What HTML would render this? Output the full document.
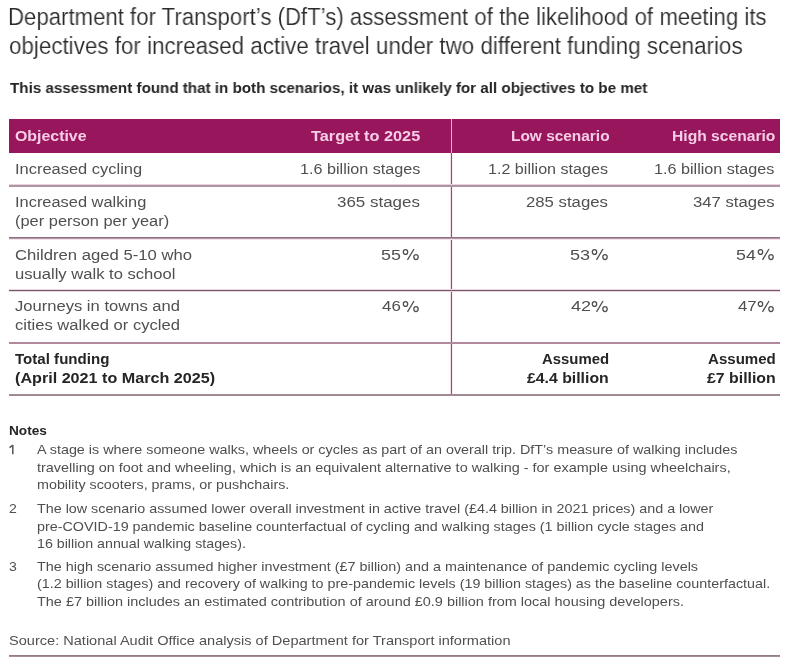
<!DOCTYPE html>
<html><head><meta charset="utf-8"><title>DfT assessment</title>
<style>
html,body{margin:0;padding:0;background:#ffffff;width:800px;height:672px;overflow:hidden;position:relative}
.t{position:absolute;white-space:nowrap;font-family:"Liberation Sans",sans-serif;transform-origin:0 0;will-change:transform}
.hd{position:absolute;left:9px;top:119px;width:771px;height:34px;background:#98165b}
.hl{position:absolute;left:9px;width:771px;height:2px;background:#b495a6}
.vl{position:absolute;left:451px;width:1px}
</style></head><body>
<div class="hd"></div>
<div class="vl" style="top:119px;height:34px;background:#f0a8d0"></div>
<div class="vl" style="top:153px;height:243px;background:#7f586f"></div>
<div class="vl" style="left:450px;top:153px;height:243px;background:#f5dde9"></div>
<div class="vl" style="left:452px;top:153px;height:243px;background:#fcf0f6"></div>
<div class="hl" style="top:184px;height:1px;background:#e6d3de"></div>
<div class="hl" style="top:185px;background:#b093a4"></div>
<div class="hl" style="top:237px;height:1px;background:#8e7084"></div>
<div class="hl" style="top:238px;height:1px;background:#b597aa"></div>
<div class="hl" style="top:239px;height:1px;background:#f3e3ec"></div>
<div class="hl" style="top:289px;height:1px;background:#eed8e4"></div>
<div class="hl" style="top:290px;height:1px;background:#74596a"></div>
<div class="hl" style="top:291px;height:1px;background:#e9d5e0"></div>
<div class="hl" style="top:342px;background:#b08a9c"></div>
<div class="hl" style="top:394px;background:#a08a96"></div>
<div class="hl" style="top:655px;height:1px;background:#957a8a"></div>
<div class="hl" style="top:656px;height:1px;background:#a78d9c"></div>
<svg style="position:absolute;left:8px;top:443px" width="8" height="13" viewBox="0 0 8 13"><path d="M4.8 1.9V11.3M4.9 2.1L1.5 4.6" stroke="#555555" stroke-width="1.5" fill="none"/></svg>
<svg style="position:absolute;left:399.1px;top:245.9px" width="22" height="16" viewBox="0 0 22 16"><g fill="none" stroke="#505050" stroke-width="1.3"><ellipse cx="6.50" cy="6.00" rx="2.2" ry="2.45"/><ellipse cx="17.00" cy="11.1" rx="2.2" ry="2.45"/><path d="M15.00 3.00L8.50 13.80"/></g></svg>
<svg style="position:absolute;left:588.3px;top:245.9px" width="22" height="16" viewBox="0 0 22 16"><g fill="none" stroke="#505050" stroke-width="1.3"><ellipse cx="6.50" cy="6.00" rx="2.2" ry="2.45"/><ellipse cx="17.00" cy="11.1" rx="2.2" ry="2.45"/><path d="M15.00 3.00L8.50 13.80"/></g></svg>
<svg style="position:absolute;left:754.0px;top:245.9px" width="22" height="16" viewBox="0 0 22 16"><g fill="none" stroke="#505050" stroke-width="1.3"><ellipse cx="6.50" cy="6.00" rx="2.2" ry="2.45"/><ellipse cx="17.00" cy="11.1" rx="2.2" ry="2.45"/><path d="M15.00 3.00L8.50 13.80"/></g></svg>
<svg style="position:absolute;left:399.1px;top:297.6px" width="22" height="16" viewBox="0 0 22 16"><g fill="none" stroke="#505050" stroke-width="1.3"><ellipse cx="6.50" cy="6.00" rx="2.2" ry="2.45"/><ellipse cx="17.00" cy="11.1" rx="2.2" ry="2.45"/><path d="M15.00 3.00L8.50 13.80"/></g></svg>
<svg style="position:absolute;left:588.3px;top:297.6px" width="22" height="16" viewBox="0 0 22 16"><g fill="none" stroke="#505050" stroke-width="1.3"><ellipse cx="6.50" cy="6.00" rx="2.2" ry="2.45"/><ellipse cx="17.00" cy="11.1" rx="2.2" ry="2.45"/><path d="M15.00 3.00L8.50 13.80"/></g></svg>
<svg style="position:absolute;left:753.6px;top:297.6px" width="22" height="16" viewBox="0 0 22 16"><g fill="none" stroke="#505050" stroke-width="1.3"><ellipse cx="6.50" cy="6.00" rx="2.2" ry="2.45"/><ellipse cx="17.00" cy="11.1" rx="2.2" ry="2.45"/><path d="M15.00 3.00L8.50 13.80"/></g></svg>
<div class="t" style="left:8.17px;top:6px;font-size:23px;line-height:23px;font-weight:400;color:#2a2a2a;-webkit-text-stroke:0.15px #fff;transform:scaleX(0.9644)">Department for Transport&rsquo;s (DfT&rsquo;s) assessment of the likelihood of meeting its</div>
<div class="t" style="left:9.13px;top:35px;font-size:23px;line-height:23px;font-weight:400;color:#2a2a2a;-webkit-text-stroke:0.15px #fff;transform:scaleX(0.9731)">objectives for increased active travel under two different funding scenarios</div>
<div class="t" style="left:10.10px;top:80px;font-size:15.3px;line-height:15.3px;font-weight:700;color:#252525;transform:scaleX(0.9916)">This assessment found that in both scenarios, it was unlikely for all objectives to be met</div>
<div class="t" style="left:14.76px;top:128px;font-size:15.3px;line-height:15.3px;font-weight:700;color:#f6cde6;transform:scaleX(1.0388)">Objective</div>
<div class="t" style="left:311.00px;top:128px;font-size:15.3px;line-height:15.3px;font-weight:700;color:#f6cde6;transform:scaleX(1.0647)">Target to 2025</div>
<div class="t" style="left:510.59px;top:128px;font-size:15.3px;line-height:15.3px;font-weight:700;color:#f6cde6;transform:scaleX(1.0083)">Low scenario</div>
<div class="t" style="left:671.58px;top:128px;font-size:15.3px;line-height:15.3px;font-weight:700;color:#f6cde6;transform:scaleX(1.0220)">High scenario</div>
<div class="t" style="left:14.56px;top:161px;font-size:15.3px;line-height:15.3px;font-weight:400;color:#505050;transform:scaleX(1.0756)">Increased cycling</div>
<div class="t" style="left:299.54px;top:161px;font-size:15.3px;line-height:15.3px;font-weight:400;color:#505050;transform:scaleX(1.0566)">1.6 billion stages</div>
<div class="t" style="left:488.35px;top:161px;font-size:15.3px;line-height:15.3px;font-weight:400;color:#505050;transform:scaleX(1.0531)">1.2 billion stages</div>
<div class="t" style="left:654.34px;top:161px;font-size:15.3px;line-height:15.3px;font-weight:400;color:#505050;transform:scaleX(1.0566)">1.6 billion stages</div>
<div class="t" style="left:14.56px;top:194px;font-size:15.3px;line-height:15.3px;font-weight:400;color:#505050;transform:scaleX(1.0725)">Increased walking</div>
<div class="t" style="left:14.56px;top:213px;font-size:15.3px;line-height:15.3px;font-weight:400;color:#505050;transform:scaleX(1.0730)">(per person per year)</div>
<div class="t" style="left:336.89px;top:194px;font-size:15.3px;line-height:15.3px;font-weight:400;color:#505050;transform:scaleX(1.1081)">365 stages</div>
<div class="t" style="left:526.31px;top:194px;font-size:15.3px;line-height:15.3px;font-weight:400;color:#505050;transform:scaleX(1.0946)">285 stages</div>
<div class="t" style="left:692.91px;top:194px;font-size:15.3px;line-height:15.3px;font-weight:400;color:#505050;transform:scaleX(1.0919)">347 stages</div>
<div class="t" style="left:14.56px;top:247px;font-size:15.3px;line-height:15.3px;font-weight:400;color:#505050;transform:scaleX(1.0898)">Children aged 5-10 who</div>
<div class="t" style="left:14.56px;top:266px;font-size:15.3px;line-height:15.3px;font-weight:400;color:#505050;transform:scaleX(1.0846)">usually walk to school</div>
<div class="t" style="left:381.23px;top:247px;font-size:15.3px;line-height:15.3px;font-weight:400;color:#505050;transform:scaleX(1.1687)">55</div>
<div class="t" style="left:570.12px;top:247px;font-size:15.3px;line-height:15.3px;font-weight:400;color:#505050;transform:scaleX(1.1812)">53</div>
<div class="t" style="left:736.14px;top:247px;font-size:15.3px;line-height:15.3px;font-weight:400;color:#505050;transform:scaleX(1.1625)">54</div>
<div class="t" style="left:14.56px;top:298px;font-size:15.3px;line-height:15.3px;font-weight:400;color:#505050;transform:scaleX(1.0837)">Journeys in towns and</div>
<div class="t" style="left:14.56px;top:317px;font-size:15.3px;line-height:15.3px;font-weight:400;color:#505050;transform:scaleX(1.0837)">cities walked or cycled</div>
<div class="t" style="left:382.40px;top:298px;font-size:15.3px;line-height:15.3px;font-weight:400;color:#505050;transform:scaleX(1.1059)">46</div>
<div class="t" style="left:571.30px;top:298px;font-size:15.3px;line-height:15.3px;font-weight:400;color:#505050;transform:scaleX(1.1812)">42</div>
<div class="t" style="left:737.60px;top:298px;font-size:15.3px;line-height:15.3px;font-weight:400;color:#505050;transform:scaleX(1.1000)">47</div>
<div class="t" style="left:14.56px;top:352px;font-size:14.8px;line-height:14.8px;font-weight:700;color:#252525;transform:scaleX(1.0200)">Total funding</div>
<div class="t" style="left:14.56px;top:371px;font-size:14.8px;line-height:14.8px;font-weight:700;color:#252525;transform:scaleX(1.0909)">(April 2021 to March 2025)</div>
<div class="t" style="left:542.10px;top:352px;font-size:14.8px;line-height:14.8px;font-weight:700;color:#252525;transform:scaleX(1.0076)">Assumed</div>
<div class="t" style="left:527.40px;top:371px;font-size:14.8px;line-height:14.8px;font-weight:700;color:#252525;transform:scaleX(1.0684)">&pound;4.4 billion</div>
<div class="t" style="left:707.70px;top:352px;font-size:14.8px;line-height:14.8px;font-weight:700;color:#252525;transform:scaleX(1.0182)">Assumed</div>
<div class="t" style="left:707.40px;top:371px;font-size:14.8px;line-height:14.8px;font-weight:700;color:#252525;transform:scaleX(1.0714)">&pound;7 billion</div>
<div class="t" style="left:8.61px;top:425px;font-size:12.6px;line-height:12.6px;font-weight:700;color:#252525;transform:scaleX(1.0853)">Notes</div>
<div class="t" style="left:37.09px;top:444px;font-size:12.6px;line-height:12.6px;font-weight:400;color:#4f4f4f;transform:scaleX(1.1387)">A stage is where someone walks, wheels or cycles as part of an overall trip. DfT&rsquo;s measure of walking includes</div>
<div class="t" style="left:37.09px;top:462px;font-size:12.6px;line-height:12.6px;font-weight:400;color:#4f4f4f;transform:scaleX(1.1455)">travelling on foot and wheeling, which is an equivalent alternative to walking - for example using wheelchairs,</div>
<div class="t" style="left:37.09px;top:479px;font-size:12.6px;line-height:12.6px;font-weight:400;color:#4f4f4f;transform:scaleX(1.1371)">mobility scooters, prams, or pushchairs.</div>
<div class="t" style="left:8.98px;top:503px;font-size:12.6px;line-height:12.6px;font-weight:400;color:#4f4f4f;transform:scaleX(1.1167)">2</div>
<div class="t" style="left:37.09px;top:503px;font-size:12.6px;line-height:12.6px;font-weight:400;color:#4f4f4f;transform:scaleX(1.1366)">The low scenario assumed lower overall investment in active travel (&pound;4.4 billion in 2021 prices) and a lower</div>
<div class="t" style="left:37.09px;top:521px;font-size:12.6px;line-height:12.6px;font-weight:400;color:#4f4f4f;transform:scaleX(1.1383)">pre-COVID-19 pandemic baseline counterfactual of cycling and walking stages (1 billion cycle stages and</div>
<div class="t" style="left:37.09px;top:538px;font-size:12.6px;line-height:12.6px;font-weight:400;color:#4f4f4f;transform:scaleX(1.1299)">16 billion annual walking stages).</div>
<div class="t" style="left:8.98px;top:561px;font-size:12.6px;line-height:12.6px;font-weight:400;color:#4f4f4f;transform:scaleX(1.1167)">3</div>
<div class="t" style="left:37.09px;top:561px;font-size:12.6px;line-height:12.6px;font-weight:400;color:#4f4f4f;transform:scaleX(1.1404)">The high scenario assumed higher investment (&pound;7 billion) and a maintenance of pandemic cycling levels</div>
<div class="t" style="left:37.09px;top:578px;font-size:12.6px;line-height:12.6px;font-weight:400;color:#4f4f4f;transform:scaleX(1.1371)">(1.2 billion stages) and recovery of walking to pre-pandemic levels (19 billion stages) as the baseline counterfactual.</div>
<div class="t" style="left:37.09px;top:596px;font-size:12.6px;line-height:12.6px;font-weight:400;color:#4f4f4f;transform:scaleX(1.1480)">The &pound;7 billion includes an estimated contribution of around &pound;0.9 billion from local housing developers.</div>
<div class="t" style="left:8.92px;top:634px;font-size:13.5px;line-height:13.5px;font-weight:400;color:#505050;transform:scaleX(1.0786)">Source: National Audit Office analysis of Department for Transport information</div>
</body></html>
